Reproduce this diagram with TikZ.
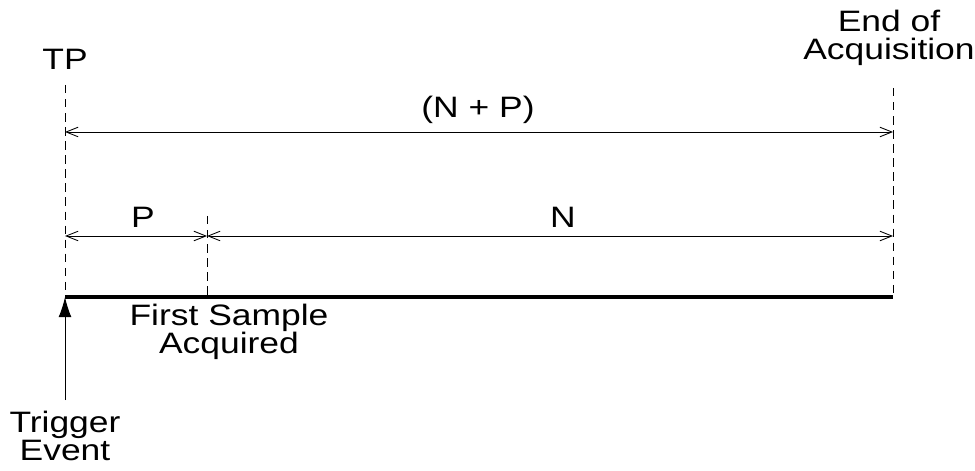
\documentclass[tikz,border=0pt]{standalone}
\usepackage{fontspec}
\setmainfont{Liberation Sans}[FakeStretch=1.2]
\usepackage{xcolor}
\usetikzlibrary{arrows.meta,positioning}
\definecolor{ink}{HTML}{000000}
\tikzset{
  guide/.style={draw=ink, line width=0.6pt, dash pattern=on 6pt off 4pt},
  dim/.style={{Straight Barb[length=3mm,width=2.4mm]}-{Straight Barb[length=3mm,width=2.4mm]},
              draw=ink, line width=0.6pt},
  base/.style={draw=ink, line width=3.5pt},
  trig/.style={-{Latex[length=5mm,width=3.2mm]}, draw=ink, line width=0.7pt},
  lbl/.style={font=\fontsize{21}{20}\selectfont, text=ink, align=center, inner sep=0pt}
}

\begin{document}
\begin{tikzpicture}[x=0.25mm, y=-0.25mm]
  \useasboundingbox (0,0) rectangle (975,471);
  % time marks
  \coordinate (tpTop) at (65,85);
  \coordinate (tp) at (65,297);
  \coordinate (fsTop) at (207,216);
  \coordinate (fs) at (207,297);
  \coordinate (endTop) at (893,88);
  \coordinate (end) at (893,297);
  \coordinate (trig) at (65,400);
  % dimension ends
  \coordinate (tpA) at (65,132);
  \coordinate (endA) at (893,132);
  \coordinate (tpB) at (65,236);
  \coordinate (fsB) at (207,236);
  \coordinate (endB) at (893,236);
  % labels
  \node[lbl, anchor=base] (tpLbl) at (65,70) {TP};
  \node[lbl, anchor=north] (endLbl) at (889,10) {End of\\Acquisition};
  \node[lbl, anchor=base] (np) at (478,118) {(N + P)};
  \node[lbl, anchor=base] (pLbl) at (143,228) {P};
  \node[lbl, anchor=base] (nLbl) at (563,228) {N};
  \node[lbl, anchor=north] (fsLbl) at (229,304) {First Sample\\Acquired};
  \node[lbl, anchor=north] (trigLbl) at (65,411) {Trigger\\Event};
  % lines
  \foreach \a/\b in {tpTop/tp,fsTop/fs,endTop/end} \draw[guide] (\a)--(\b);
  \draw[base] (tp)--(end);
  \draw[dim] (tpA)--(endA);
  \draw[dim] (tpB)--(fsB);
  \draw[dim] (fsB)--(endB);
  \draw[trig] (trig)--(tp);
\end{tikzpicture}
\end{document}
